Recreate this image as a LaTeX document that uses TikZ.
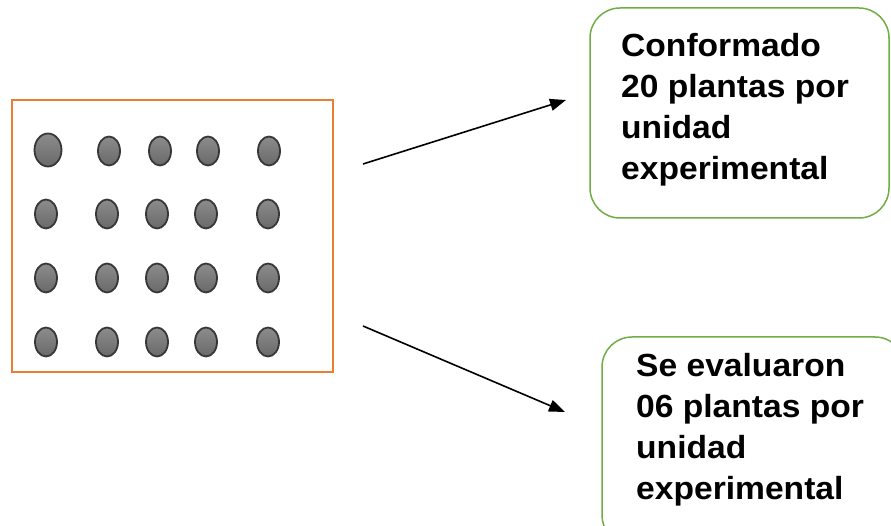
\documentclass[tikz,border=0pt]{standalone}
\usepackage{fontspec}
\usetikzlibrary{arrows.meta}
\newfontfamily\labelfont[FakeStretch=1.05]{Liberation Sans}
\definecolor{plotorange}{RGB}{237,125,49}
\definecolor{notegreen}{RGB}{112,173,71}
\definecolor{plantedge}{RGB}{55,55,55}
\definecolor{planttop}{RGB}{140,140,140}
\definecolor{plantbottom}{RGB}{105,105,105}
\tikzset{
  plotbox/.style={draw=plotorange, line width=1.5pt},
  notebox/.style={draw=notegreen, line width=1.5pt, rounded corners=30pt},
  plant/.style={draw=plantedge, line width=1.8pt, top color=planttop, bottom color=plantbottom},
  notetext/.style={anchor=north west, inner sep=0pt, align=left,
    font=\labelfont\bfseries\fontsize{32pt}{41pt}\selectfont},
  link/.style={line width=1.6pt, -{Triangle[length=16pt,width=12pt]}}
}
\begin{document}
\begin{tikzpicture}[x=1pt,y=-1pt]
  \useasboundingbox (0,0) rectangle (891,526);

  % experimental plot with its plants
  \draw[plotbox] (12,100) rectangle (333,372);
  \shade[plant] (48,150) ellipse [x radius=13.5, y radius=16.5];
  \foreach \x in {109,160,208,269}
    \shade[plant] (\x,151) ellipse [x radius=11, y radius=14.5];
  \foreach \y in {214,278,342}
    \foreach \x in {46,107,157,206,268}
      \shade[plant] (\x,\y) ellipse [x radius=11, y radius=14.5];

  % notes
  \draw[notebox] (590,8) rectangle (889,218);
  \node[notetext] (total) at (621,33) {Conformado\\20 plantas por\\unidad\\experimental};
  \draw[notebox] (602,337) rectangle (905,545);
  \node[notetext] (sample) at (636,353) {Se evaluaron\\06 plantas por\\unidad\\experimental};

  % arrows from the plot to the notes
  \coordinate (up0) at (363,164);
  \coordinate (up1) at (566,100);
  \coordinate (dn0) at (363,326);
  \coordinate (dn1) at (565,412);
  \draw[link] (up0) -- (up1);
  \draw[link] (dn0) -- (dn1);
\end{tikzpicture}
\end{document}
